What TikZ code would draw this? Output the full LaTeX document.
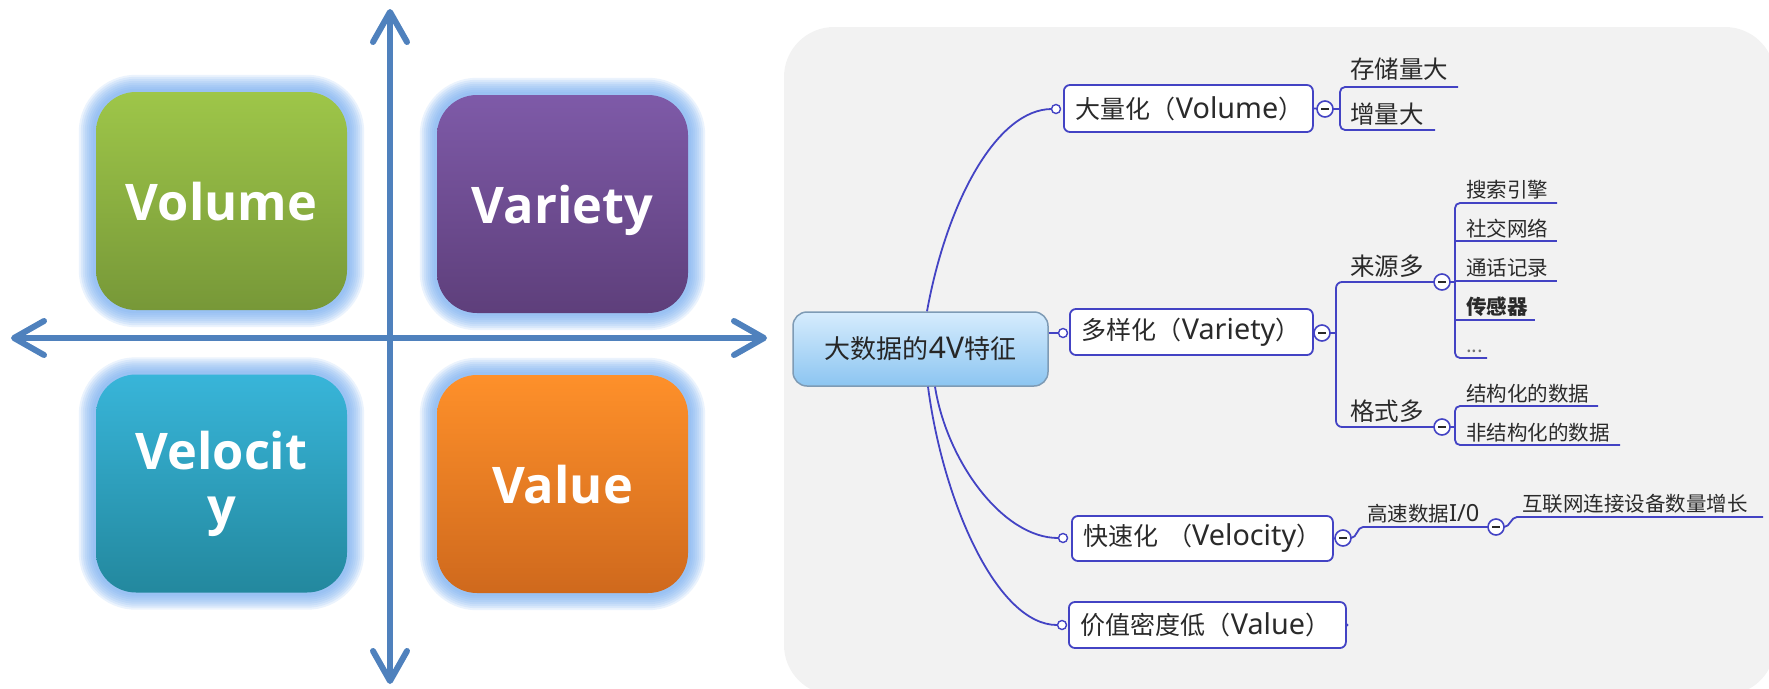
\documentclass[tikz,border=0pt]{standalone}
\usepackage{fontspec}
\setmainfont{Noto Sans CJK SC}
\newfontfamily\boxfont{Open Sans}
\newfontfamily\latf{Noto Sans}[Scale=1.15]
\usetikzlibrary{arrows.meta,calc}
\pgfdeclarelayer{bg}
\pgfsetlayers{bg,main}
\definecolor{axisblue}{HTML}{4F81BD}
\definecolor{glowc}{HTML}{6FA8EE}
\definecolor{volT}{HTML}{9EC649}
\definecolor{volB}{HTML}{779838}
\definecolor{varT}{HTML}{7E5AA8}
\definecolor{varB}{HTML}{5E3F7B}
\definecolor{velT}{HTML}{38B5D9}
\definecolor{velB}{HTML}{23889E}
\definecolor{valT}{HTML}{FE902A}
\definecolor{valB}{HTML}{CF691D}
\definecolor{panel}{HTML}{F2F2F2}
\definecolor{mline}{HTML}{4343C4}
\definecolor{txt}{HTML}{2A2A2A}
\definecolor{rootT}{HTML}{D6ECFD}
\definecolor{rootB}{HTML}{8CC5F1}
\definecolor{rootD}{HTML}{7E9BB5}
\begin{document}
\begin{tikzpicture}[x=1pt,y=-1pt,
  qbox/.style={rounded corners=40pt, minimum width=251pt, minimum height=218pt, inner sep=0pt, text=white, font=\boxfont\bfseries\fontsize{50.5}{55}\selectfont, align=center},
  glowline/.style={draw=glowc, rounded corners=40pt, opacity=0.14},
  axis/.style={draw=axisblue, line width=6pt, {Straight Barb[length=30pt,width=34pt,round]}-{Straight Barb[length=30pt,width=34pt,round]}},
  ml/.style={draw=mline, line width=1.8pt},
  mnode/.style={draw=mline, line width=1.8pt, rounded corners=6pt, fill=white, text=txt, font=\fontsize{25}{28}\selectfont, inner xsep=12pt, inner ysep=0pt, align=left, anchor=west},
  rootbox/.style={draw=rootD, line width=1.5pt, rounded corners=14pt, top color=rootT, bottom color=rootB, minimum width=255pt, minimum height=74pt, inner sep=0pt, text=black!85, font=\fontsize{26}{28}\selectfont},
  conn/.style={circle, draw=mline, fill=white, line width=1.4pt, minimum size=9pt, inner sep=0pt},
  coll/.style={circle, draw=mline, fill=white, line width=1.6pt, minimum size=16pt, inner sep=0pt},
  leaf/.style={anchor=base west, inner sep=0pt, text=txt, font=\fontsize{20.5}{24}\selectfont},
  big/.style={leaf, font=\fontsize{24.5}{27}\selectfont},
]
\useasboundingbox (0,0) rectangle (1769,688);

% ---------- left: four quadrants ----------
\node[qbox, text depth=0pt, top color=volT, bottom color=volB] (vol4) at (221.5,201) {Volume};
\node[qbox, text depth=0pt, top color=varT, bottom color=varB] (var4) at (562.5,204) {Variety};
\node[qbox, top color=velT, bottom color=velB] (vel4) at (221.5,483.5) {Velocit\\y};
\node[qbox, text depth=0pt, top color=valT, bottom color=valB] (val4) at (562.5,484) {Value};

\coordinate (at) at (390,9);
\coordinate (ab) at (390,684);
\coordinate (al) at (11,338);
\coordinate (ar) at (767,338);
\draw[axis] (at) -- (ab);
\draw[axis] (al) -- (ar);

\begin{pgfonlayer}{bg}
  \fill[panel, rounded corners=50pt] (784,27) rectangle (1775,695);
  \foreach \n in {vol4,var4,vel4,val4}{
    \foreach \w in {34,30,26,22,18,14,10,6}{
      \draw[glowline, line width=\w pt] (\n.south west) rectangle (\n.north east);
    }
  }
\end{pgfonlayer}

% ---------- right: mind map ----------
\node[rootbox] (root) at (920.5,349) {大数据的{\latf 4V}特征};

\node[mnode, text width=225pt, minimum height=47pt] (vol) at (1063,108.5) {\mbox{大量化（{\latf Volume}）}};
\node[mnode, text width=219pt, minimum height=46pt] (var) at (1069,332) {\mbox{多样化（{\latf Variety}）}};
\node[mnode, text width=237pt, minimum height=45pt] (vel) at (1071,538.5) {\mbox{快速化 （{\latf Velocity}）}};
\node[mnode, text width=253pt, minimum height=46pt] (val) at (1068,625) {\mbox{价值密度低（{\latf Value}）}};

% connectors from the root
\draw[ml] ($(root.north)+(6.5,0)$) .. controls +(20,-110) and +(-55,0) .. (1052,109);
\draw[ml] (root.east |- 1063,333) -- (1058,333);
\draw[ml] ($(root.south)+(14.5,0)$) .. controls +(12,75) and +(-55,0) .. (1058,538);
\draw[ml] ($(root.south)+(7.5,0)$) .. controls +(15,115) and +(-60,0) .. (1057,625);

\node[conn] (volc) at (1056,109) {};
\node[conn] (varc) at (1063,333) {};
\node[conn] (velc) at (1063,538) {};
\node[conn] (valc) at (1062,625) {};

% right side links
\draw[ml] (vol.east) -- (1325,109);
\draw[ml] (var.east) -- (1322,333);
\draw[ml] (vel.east) -- (1343,538);
\fill[mline] (val.east) circle (1.8pt);

% Volume children
\draw[ml] (1325,109) -- (1340,109);
\draw[ml, rounded corners=5pt] (1458,87) -- (1340,87) -- (1340,130) -- (1435,130);
\node[big] (s1) at (1350,78) {存储量大};
\node[big] (s2) at (1350,123) {增量大};

% Variety children
\draw[ml] (1322,333) -- (1336,333);
\draw[ml, rounded corners=6pt] (1442,282) -- (1336,282) -- (1336,427) -- (1442,427);
\node[big] (src) at (1350,275) {来源多};
\node[big] (fmt) at (1350,420) {格式多};

\draw[ml] (1442,282) -- (1455,282);
\draw[ml, rounded corners=5pt] (1557,203) -- (1455,203) -- (1455,358) -- (1487,358);
\draw[ml] (1455,241) -- (1557,241);
\draw[ml] (1455,281) -- (1557,281);
\draw[ml] (1455,320) -- (1535,320);
\node[leaf] (i1) at (1466,197) {搜索引擎};
\node[leaf] (i2) at (1466,236) {社交网络};
\node[leaf] (i3) at (1466,275) {通话记录};
\node[leaf, font=\fontsize{20.5}{24}\selectfont\bfseries] (i4) at (1466,314) {传感器};
\node[leaf, text=black!55] (i5) at (1466,352) {...};

\draw[ml] (1442,427) -- (1455,427);
\draw[ml, rounded corners=5pt] (1598,406) -- (1455,406) -- (1455,445) -- (1620,445);
\node[leaf] (f1) at (1466,401) {结构化的数据};
\node[leaf] (f2) at (1466,440) {非结构化的数据};

% Velocity children
\draw[ml] (1343,538) -- (1351,538) .. controls +(6,0) and +(-6,0) .. (1363,527) -- (1496,527);
\draw[ml] (1496,527) -- (1504,527) .. controls +(6,0) and +(-6,0) .. (1517,517) -- (1763,517);
\node[leaf] (h1) at (1367,521) {高速数据{\latf I/0}};
\node[leaf] (h2) at (1522,511) {互联网连接设备数量增长};

% collapse buttons
\node[coll] (volx) at (1325,109) {};
\node[coll] (varx) at (1322,333) {};
\node[coll] (velx) at (1343,538) {};
\node[coll] (hx) at (1496,527) {};
\node[coll] (srcx) at (1442,282) {};
\node[coll] (fmtx) at (1442,427) {};
\foreach \c in {volx,varx,velx,hx,srcx,fmtx}{
  \draw[line width=1.5pt, txt] ($(\c.center)+(-4,0)$) -- ($(\c.center)+(4,0)$);
}
\end{tikzpicture}
\end{document}
